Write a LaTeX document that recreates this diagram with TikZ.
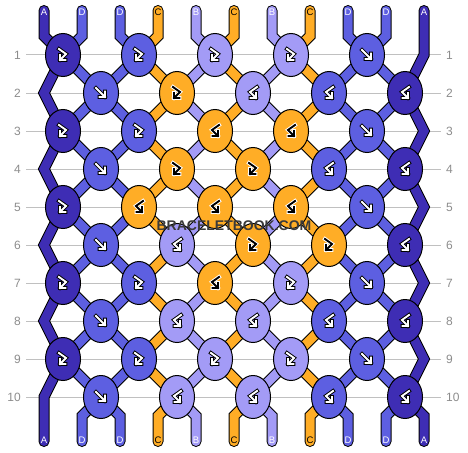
\documentclass[tikz,border=0pt]{standalone}
\usepackage{fontspec}
\setmainfont{Liberation Sans}
\usetikzlibrary{shapes.geometric}
\definecolor{kA}{RGB}{62,45,180}
\definecolor{kD}{RGB}{93,95,225}
\definecolor{kB}{RGB}{163,155,246}
\definecolor{kC}{RGB}{255,173,38}
\colorlet{gA}{white}\colorlet{gD}{white}\colorlet{gB}{white}\colorlet{gC}{black}
\colorlet{hA}{black}\colorlet{hD}{black}\colorlet{hB}{black}\colorlet{hC}{white}
\colorlet{lA}{white}\colorlet{lD}{white}\colorlet{lB}{white}\colorlet{lC}{black}
\definecolor{rulegray}{RGB}{192,192,192}
\definecolor{numgray}{RGB}{140,140,140}
\definecolor{markgray}{RGB}{58,58,58}
\pgfdeclarelayer{grid}
\pgfdeclarelayer{strings}
\pgfsetlayers{grid,strings,main}
\tikzset{
  knot/.style={ellipse, draw=black, line width=1pt, minimum width=35pt, minimum height=43pt, inner sep=0pt},
  strandline/.style={line width=11pt, line cap=round, draw=black},
  strandfill/.style={line width=9pt, line cap=round},
  glyphline/.style={line width=#1, line cap=rect, line join=miter},
  endlabel/.style={font=\fontsize{9.5}{10}\selectfont, inner sep=0pt},
  rownum/.style={font=\fontsize{12}{12}\selectfont, text=numgray, inner xsep=5pt, inner ysep=0pt},
}
\newcommand\glyphf{(-5,-5) -- (4,4) (4,-1.5) -- (4,4) -- (-1.5,4)}
\newcommand\glyphfb{(-4,-6) -- (3,-1) -- (-3,5) (-3,0) -- (-3,5) -- (2.5,5)}
\newcommand\glyphbf{(4,-6) -- (-3,-1) -- (3,5) (3,0) -- (3,5) -- (-2.5,5)}
\begin{document}
\begin{tikzpicture}[x=1pt,y=-1pt]
\useasboundingbox (0,0) rectangle (468,452);

% rows
\begin{pgfonlayer}{grid}
\foreach \r in {1,...,10}{
  \pgfmathsetmacro\ry{55+38*(\r-1)}
  \node[rownum, anchor=east] (nl-\r) at (26,\ry) {\r};
  \node[rownum, anchor=west] (nr-\r) at (441,\ry) {\r};
  \draw[rulegray, line width=1pt] (nl-\r) -- (nr-\r);
}
\end{pgfonlayer}

% knots
\foreach \r/\knots in {1/{A/fb,D/fb,B/fb,B/fb,D/f}, 2/{D/f,C/fb,B/bf,D/bf,A/bf},
    3/{A/fb,D/fb,C/bf,C/bf,D/f}, 4/{D/f,C/fb,C/fb,D/bf,A/bf},
    5/{A/fb,C/bf,C/bf,C/bf,D/f}, 6/{D/f,B/bf,C/fb,C/fb,A/bf},
    7/{A/fb,D/fb,C/bf,B/fb,D/f}, 8/{D/f,B/bf,B/bf,D/bf,A/bf},
    9/{A/fb,D/fb,B/fb,B/fb,D/f}, 10/{D/f,B/bf,B/bf,D/bf,A/bf}}
  \foreach \kc/\kt [count=\k] in \knots {
    \pgfmathsetmacro\kx{63+76*(\k-1)+38*(1-mod(\r,2))}
    \pgfmathsetmacro\ky{55+38*(\r-1)}
    \node[knot, fill=k\kc] (k-\r-\k) at (\kx,\ky) {};
    \expandafter\let\expandafter\gpath\csname glyph\kt\endcsname
    \draw[glyphline=3.8pt, draw=h\kc, shift={(\kx,\ky)}] \gpath;
    \draw[glyphline=1.9pt, draw=g\kc, shift={(\kx,\ky)}] \gpath;
  }

% string positions per row
\foreach \r in {1,...,10}{
  \pgfmathtruncatemacro\ry{55+38*(\r-1)}
  \foreach \p in {1,...,11}{
    \pgfmathtruncatemacro\ki{mod(\r,2)==1 ? ceil(\p/2) : floor(\p/2)}
    \ifnum\ki=0 \coordinate (s-\r-\p) at (44,\ry);
    \else\ifnum\ki=6 \coordinate (s-\r-\p) at (424,\ry);
    \else \coordinate (s-\r-\p) at (k-\r-\ki); \fi\fi
  }
}

\foreach \p/\c in {1/A,2/D,3/D,4/C,5/B,6/C,7/B,8/C,9/D,10/D,11/A}{
  \pgfmathsetmacro\sx{44+38*(\p-1)}
  \coordinate (top-\p) at (\sx,10.5);
  \coordinate (tbend-\p) at (\sx,36);
  \coordinate (bbend-\p) at (\sx,416);
  \coordinate (bot-\p) at (\sx,441.5);
  \node[endlabel, text=l\c] (lt-\p) at (\sx,12.5) {\c};
  \node[endlabel, text=l\c] (lb-\p) at (\sx,440) {\c};
}

\begin{pgfonlayer}{strings}
\foreach \p in {1,...,11}
  \draw[strandline] (top-\p) -- (tbend-\p) \foreach \r in {1,...,10}{ -- (s-\r-\p)} -- (bbend-\p) -- (bot-\p);
\foreach \p/\c in {1/A,2/D,3/D,4/C,5/B,6/C,7/B,8/C,9/D,10/D,11/A}
  \draw[strandfill, draw=k\c] (top-\p) -- (tbend-\p) \foreach \r in {1,...,10}{ -- (s-\r-\p)} -- (bbend-\p) -- (bot-\p);
\end{pgfonlayer}

\node[font=\bfseries\fontsize{14}{14}\selectfont, text=markgray] (mark) at (234,226) {BRACELETBOOK.COM};
\end{tikzpicture}
\end{document}
